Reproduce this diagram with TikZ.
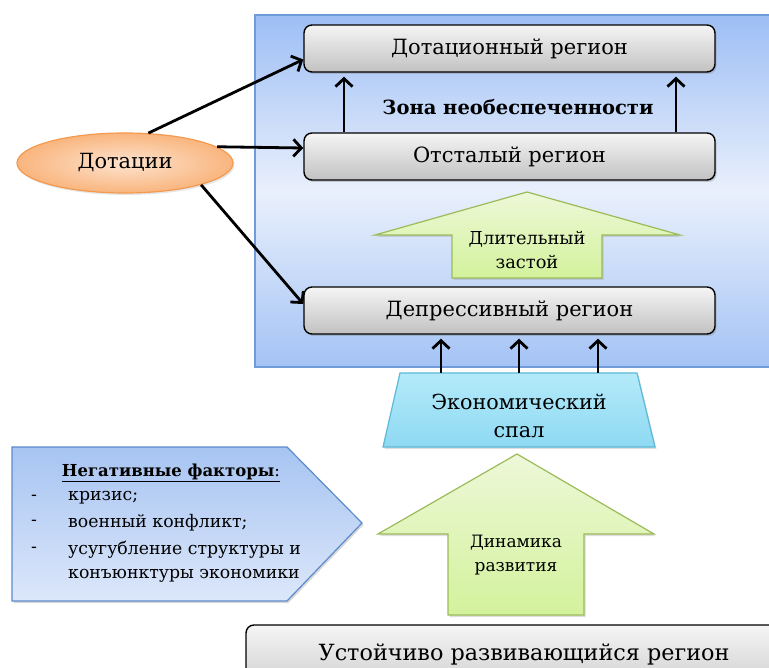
\documentclass[tikz,border=0pt]{standalone}
\usepackage{fontspec}
\setmainfont{DejaVu Serif}
\usetikzlibrary{shapes.geometric,arrows.meta,shadows,calc}
\definecolor{panelTop}{HTML}{9DBEF5}
\definecolor{panelMid}{HTML}{E9F0FC}
\definecolor{panelBot}{HTML}{A4C3F5}
\definecolor{panelEdge}{HTML}{6F9BD8}
\definecolor{grTop}{HTML}{EDF8D8}
\definecolor{grBot}{HTML}{D3F29C}
\definecolor{grEdge}{HTML}{9BBB59}
\definecolor{cyTop}{HTML}{B4EAFA}
\definecolor{cyBot}{HTML}{8ED9F2}
\definecolor{cyEdge}{HTML}{5CBAD8}
\definecolor{orIn}{HTML}{FDE3CE}
\definecolor{orOut}{HTML}{F9B57E}
\definecolor{orEdge}{HTML}{F39A4E}
\definecolor{blTop}{HTML}{A7C4F2}
\definecolor{blBot}{HTML}{DCE7FA}
\definecolor{blEdge}{HTML}{5B8BCB}
\begin{document}
\begin{tikzpicture}[x=1pt,y=-1pt,
  regionbox/.style={draw=black,line width=1.4pt,rounded corners=8pt,
    top color=gray!8,bottom color=gray!48,minimum width=411pt,minimum height=47pt,
    inner sep=0pt,font=\fontsize{21}{24}\selectfont,
    drop shadow={shadow xshift=1.5pt,shadow yshift=-2pt,opacity=0.35}},
  conn/.style={line width=2.8pt,-{Straight Barb[length=8pt,width=17pt,line width=2.8pt]}},
  greenarrow/.style={draw=grEdge,line width=1.2pt,top color=grTop,bottom color=grBot,
    drop shadow={shadow xshift=1.5pt,shadow yshift=-2pt,opacity=0.25}},
  listtext/.style={font=\fontsize{17.3}{20}\selectfont,anchor=west,inner sep=0pt}
]
\useasboundingbox (0,0) rectangle (769,668);
\clip (0,0) rectangle (769,668);
% panel
\shade[top color=panelTop,bottom color=panelBot,middle color=panelMid]
  (255,15) rectangle (790,367);
\draw[panelEdge,line width=1.3pt] (790,15) -- (255,15) -- (255,367) -- (790,367);
% region boxes
\node[regionbox] (dot) at (509.5,48.5) {Дотационный регион};
\node[regionbox] (ots) at (509.5,156.5) {Отсталый регион};
\node[regionbox] (dep) at (509.5,310.5) {Депрессивный регион};
\node[font=\fontsize{19.5}{24}\selectfont\bfseries] (zona) at (518,107) {Зона необеспеченности};
% up arrows between ots and dot
\draw[conn,shorten >=4pt] (ots.north -| 344,0) -- (dot.south -| 344,0);
\draw[conn,shorten >=4pt] (ots.north -| 676,0) -- (dot.south -| 676,0);
% green arrow 1
\draw[greenarrow] (527,192) -- (680,235) -- (602,235) -- (602,278) -- (452,278) -- (452,235) -- (375,235) -- cycle;
\node[font=\fontsize{17.8}{24}\selectfont,align=center,inner sep=0pt] (zastoy) at (527,250) {Длительный\\застой};
% trapezoid
\shade[top color=cyTop,bottom color=cyBot,drop shadow={shadow xshift=1.5pt,shadow yshift=-2pt,opacity=0.25}]
  (400,373) -- (637,373) -- (655,447) -- (383,447) -- cycle;
\draw[cyEdge,line width=1.2pt] (400,373) -- (637,373) -- (655,447) -- (383,447) -- cycle;
\node[font=\fontsize{20.7}{28}\selectfont,align=center,inner sep=0pt] (spal) at (519,416) {Экономический\\спал};
\coordinate (s1) at (441,373);
\coordinate (s2) at (519,373);
\coordinate (s3) at (598,373);
\draw[conn,shorten >=4pt] (s1) -- (s1 |- dep.south);
\draw[conn,shorten >=4pt] (s2) -- (s2 |- dep.south);
\draw[conn,shorten >=4pt] (s3) -- (s3 |- dep.south);
% green arrow 2
\draw[greenarrow] (517,454) -- (654,534) -- (584,534) -- (584,615) -- (448,615) -- (448,534) -- (378,534) -- cycle;
\node[font=\fontsize{17}{24}\selectfont,align=center,inner sep=0pt] (dinam) at (516,555) {Динамика\\развития};
% bottom box
\draw[black,line width=1.4pt,rounded corners=8pt,top color=gray!8,bottom color=gray!48]
  (246,625) rectangle (800,710);
\node[font=\fontsize{22.3}{24}\selectfont,inner sep=0pt] (ustoy) at (524,654) {Устойчиво развивающийся регион};
% ellipse
\node[ellipse,draw=orEdge,line width=1.2pt,inner color=orIn,outer color=orOut,
  minimum width=216pt,minimum height=60pt,font=\fontsize{20.9}{24}\selectfont,
  drop shadow={shadow xshift=1.5pt,shadow yshift=-2pt,opacity=0.2}] (dotac) at (125,163) {Дотации};
\draw[conn] (dotac.52) -- ($(dot.west)+(0,11)$);
\draw[conn] (dotac.10) -- ($(ots.west)+(0,-8.5)$);
\draw[conn] (dotac.-16) -- ($(dep.west)+(0,-6.5)$);
% pentagon
\draw[blEdge,line width=1.2pt,top color=blTop,bottom color=blBot,
  drop shadow={shadow xshift=1.5pt,shadow yshift=-2pt,opacity=0.3}]
  (12,447) -- (287,447) -- (362,523) -- (287,601) -- (12,601) -- cycle;
\node[font=\fontsize{16.5}{20}\selectfont,inner sep=0pt] (negt) at (171,473) {\underline{\textbf{Негативные факторы}:}};
\node[listtext] (d1) at (31,498) {-};
\node[listtext] (d2) at (31,523) {-};
\node[listtext] (d3) at (31,550) {-};
\node[listtext] (i1) at (68,498) {кризис;};
\node[listtext] (i2) at (68,523) {военный конфликт;};
\node[listtext] (i3) at (68,550) {усугубление структуры и};
\node[listtext] (i4) at (68,576) {конъюнктуры экономики};
\end{tikzpicture}
\end{document}
